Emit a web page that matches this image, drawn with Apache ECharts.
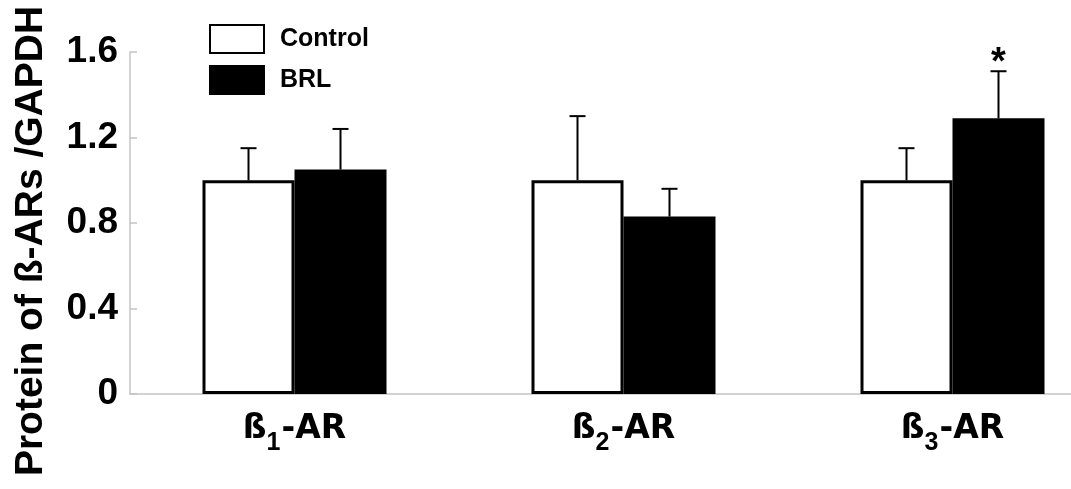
<!DOCTYPE html>
<html>
<head>
<meta charset="utf-8">
<script src="https://cdn.jsdelivr.net/npm/echarts@6/dist/echarts.min.js"></script>
<style>
html,body{margin:0;padding:0;background:#fff;}
#c{width:1071px;height:489px;}
</style>
</head>
<body>
<div id="c"></div>
<script>
const categories = ['ß1-AR', 'ß2-AR', 'ß3-AR'];
const seriesNames = ['Control', 'BRL'];
const controlMean = [1.0, 1.0, 1.0];
const controlErr = [0.15, 0.30, 0.15];
const brlMean = [1.05, 0.83, 1.29];
const brlErr = [0.19, 0.13, 0.22];
const brlSignificance = ['', '', '*'];
const controlSignificance = ['', '', ''];
const yMin = 0, yMax = 1.6, yInterval = 0.4;
const yTitle = 'Protein of ß-ARs /GAPDH';

const BAR_W = 92;

function errRenderer(offset, sig) {
  return function (params, api) {
    const i = api.value(0), m = api.value(1), e = api.value(2);
    const base = api.coord([i, m]);
    const top = api.coord([i, m + e]);
    const x = base[0] + offset;
    const st = { stroke: '#000', lineWidth: 2 };
    const children = [
      { type: 'line', shape: { x1: x, y1: base[1], x2: x, y2: top[1] }, style: st },
      { type: 'line', shape: { x1: x - 8, y1: top[1], x2: x + 8, y2: top[1] }, style: st }
    ];
    const s = sig[params.dataIndex];
    if (s) {
      children.push({
        type: 'text',
        style: { x: x, y: top[1] + 11, text: s, fill: '#000',
          font: 'bold 38px "Liberation Sans", Arial, sans-serif',
          align: 'center', verticalAlign: 'bottom' }
      });
    }
    return { type: 'group', children: children };
  };
}

const chart = echarts.init(document.getElementById('c'), null, { renderer: 'canvas' });
chart.setOption({
  backgroundColor: '#fff',
  animation: false,
  textStyle: { fontFamily: '"Liberation Sans", Arial, sans-serif' },
  grid: { left: 130, right: -46, top: 52, bottom: 95, containLabel: false, outerBoundsMode: 'none' },
  legend: {
    data: seriesNames,
    orient: 'vertical',
    left: 209, top: 24, padding: 0,
    icon: 'rect',
    itemWidth: 54, itemHeight: 28, itemGap: 11,
    textStyle: { fontSize: 25, fontWeight: 'bold', color: '#000', padding: [10, 0, 0, 11] }
  },
  graphic: [{
    type: 'text',
    x: 31, y: 241,
    rotation: Math.PI / 2,
    style: { text: yTitle, fill: '#000',
      font: 'bold 39px "Liberation Sans", Arial, sans-serif',
      align: 'center', verticalAlign: 'middle' }
  }],
  xAxis: {
    type: 'category',
    data: categories,
    axisLine: { lineStyle: { color: '#c4c4c4', width: 1.5 } },
    axisTick: { show: false },
    axisLabel: {
      margin: 19,
      formatter: function (v) {
        return '{a|' + v[0] + '}{s|' + v[1] + '}{a|' + v.slice(2) + '}';
      },
      rich: {
        a: { fontSize: 33, fontWeight: 'bold', color: '#000', fontFamily: '"DejaVu Sans", sans-serif', lineHeight: 36, verticalAlign: 'top' },
        s: { fontSize: 25, fontWeight: 'bold', color: '#000', fontFamily: '"Liberation Sans", sans-serif', lineHeight: 26, padding: [18, 1, 0, 0], verticalAlign: 'top' }
      }
    }
  },
  yAxis: {
    type: 'value',
    min: yMin, max: yMax, interval: yInterval,
    splitLine: { show: false },
    axisLine: { show: true, lineStyle: { color: '#c4c4c4', width: 1.5 } },
    axisTick: { show: true, inside: true, length: 7, lineStyle: { color: '#c4c4c4', width: 1.5 } },
    axisLabel: { fontSize: 37, fontWeight: 'bold', color: '#000', margin: 12 }
  },
  series: [
    {
      name: 'Control', type: 'bar', data: controlMean, barWidth: BAR_W, barGap: '0%',
      itemStyle: { color: '#fff', borderColor: '#000', borderWidth: 3 }
    },
    {
      name: 'BRL', type: 'bar', data: brlMean, barWidth: BAR_W, barGap: '0%',
      itemStyle: { color: '#000', borderColor: '#000', borderWidth: 3 }
    },
    {
      type: 'custom', z: 5, silent: true,
      renderItem: errRenderer(-BAR_W / 2, controlSignificance),
      data: controlMean.map((m, i) => [i, m, controlErr[i]])
    },
    {
      type: 'custom', z: 5, silent: true,
      renderItem: errRenderer(BAR_W / 2, brlSignificance),
      data: brlMean.map((m, i) => [i, m, brlErr[i]])
    }
  ]
});
</script>
</body>
</html>
